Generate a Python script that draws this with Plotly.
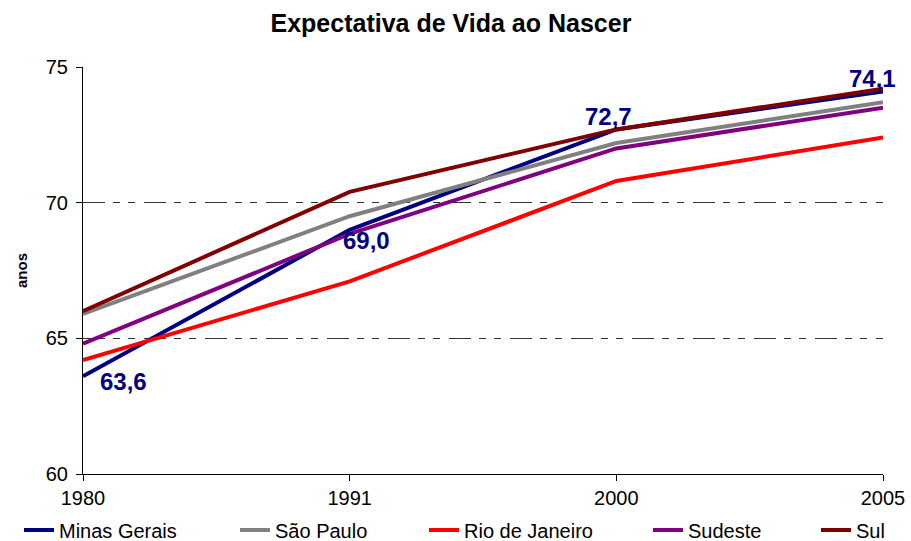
import plotly.graph_objects as go

years = ["1980", "1991", "2000", "2005"]
minas_gerais = [63.6, 69.0, 72.7, 74.1]
sao_paulo = [65.9, 69.5, 72.2, 73.7]
rio_de_janeiro = [64.2, 67.1, 70.8, 72.4]
sudeste = [64.8, 68.85, 72.0, 73.5]
sul = [66.0, 70.4, 72.7, 74.2]

series = [
    ("Minas Gerais", minas_gerais, "#000080"),
    ("São Paulo", sao_paulo, "#808080"),
    ("Rio de Janeiro", rio_de_janeiro, "#FF0000"),
    ("Sudeste", sudeste, "#800080"),
    ("Sul", sul, "#800000"),
]

FONT = "Liberation Sans, Arial, sans-serif"

# left positions (px) of each legend entry in the bottom row
legend_left = [19, 235, 424, 648, 816]

fig = go.Figure()
legend_layouts = {}
for k, ((name, vals, color), left) in enumerate(zip(series, legend_left)):
    lname = "legend" if k == 0 else f"legend{k + 1}"
    fig.add_trace(go.Scatter(
        x=years, y=vals, name=name, mode="lines",
        line=dict(color=color, width=4),
        legend=lname,
    ))
    legend_layouts[lname] = dict(
        orientation="h", xref="container", yref="container",
        x=left / 911, xanchor="left", y=1 - 530 / 541, yanchor="middle",
        font=dict(family=FONT, size=20, color="black"),
        itemwidth=30, bgcolor="rgba(0,0,0,0)", borderwidth=0,
    )

# Data labels for Minas Gerais (x given as category index)
shifts = [(40, -5), (17, -11), (-8, 13), (-11, 13)]
for i, (v, (dx, dy)) in enumerate(zip(minas_gerais, shifts)):
    fig.add_annotation(
        x=i, y=v, xref="x", yref="y",
        text=f"<b>{v:.1f}</b>".replace(".", ","), showarrow=False,
        xshift=dx, yshift=dy,
        font=dict(family=FONT, size=24, color="#000080"),
    )

fig.update_layout(
    width=911, height=541,
    margin=dict(l=83, r=28, t=67, b=67, autoexpand=False),
    paper_bgcolor="white", plot_bgcolor="white",
    font=dict(family=FONT, color="black"),
    title=dict(text="<b>Expectativa de Vida ao Nascer</b>", x=0.495, xanchor="center",
               xref="container", yref="container",
               y=1 - 23 / 541, yanchor="middle",
               font=dict(family=FONT, size=25, color="black")),
    showlegend=True,
    **legend_layouts,
)

fig.update_xaxes(
    type="category", range=[0, 3], showgrid=False, automargin=False,
    showline=True, linecolor="black", linewidth=1,
    ticks="outside", ticklen=6, tickcolor="black",
    tickfont=dict(family=FONT, size=20, color="black"),
    ticklabelstandoff=0,
)
fig.update_yaxes(
    range=[60, 75], dtick=5, tick0=60, automargin=False,
    showline=True, linecolor="black", linewidth=1,
    ticks="outside", ticklen=6, tickcolor="black",
    tickfont=dict(family=FONT, size=20, color="black"),
    ticklabelstandoff=4,
    showgrid=True, gridcolor="#333333", gridwidth=1,
    griddash="22px,8px,7px,8px,7px,9px",
    zeroline=False,
    title=dict(text="<b>anos</b>", font=dict(family=FONT, size=15, color="black"), standoff=14),
)

fig.write_html("out.html", config={"displayModeBar": False},
               post_script="document.body.style.margin='0';")
